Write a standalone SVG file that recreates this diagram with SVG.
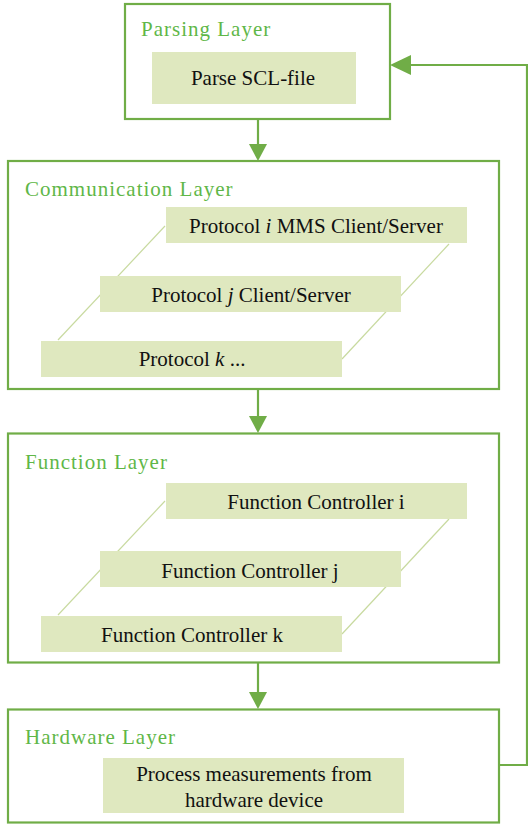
<svg xmlns="http://www.w3.org/2000/svg" width="528" height="825" viewBox="0 0 528 825">
<defs>
<style>
.layer{fill:#fff;stroke:#70AD47;stroke-width:2.2}
.box{fill:#DFE8BF}
.title{font-family:"Liberation Serif",serif;font-size:21px;fill:#5FB748;letter-spacing:1px}
.t{font-family:"Liberation Serif",serif;font-size:21px;fill:#111;text-anchor:middle}
.guide{stroke:#C8DA9F;stroke-width:1.2;fill:none}
.conn{stroke:#70AD47;stroke-width:2.2;fill:none}
</style>
<marker id="ah" viewBox="0 0 10 10" refX="10" refY="5" markerWidth="9" markerHeight="9" markerUnits="userSpaceOnUse" orient="auto">
<path d="M0,0 L10,5 L0,10 Z" fill="#70AD47"/>
</marker>
<marker id="ah2" viewBox="0 0 10 10" refX="10" refY="5" markerWidth="10" markerHeight="10" markerUnits="strokeWidth" orient="auto">
<path d="M0,0 L10,5 L0,10 Z" fill="#70AD47"/>
</marker>
</defs>

<g id="parsing-layer">
<rect class="layer" x="125" y="4" width="265" height="115"/>
<text class="title" x="141" y="36">Parsing Layer</text>
<g id="parse-scl">
<rect class="box" x="152" y="52" width="204" height="52"/>
<text class="t" x="253" y="85">Parse SCL-file</text>
</g>
</g>

<g id="communication-layer">
<rect class="layer" x="8" y="161" width="491" height="228"/>
<text class="title" x="25" y="196">Communication Layer</text>
<line class="guide" x1="165" y1="226" x2="58" y2="340"/>
<line class="guide" x1="449" y1="244" x2="342" y2="359"/>
<g id="protocol-i">
<rect class="box" x="166" y="207" width="301" height="36"/>
<text class="t" x="316" y="232.5">Protocol <tspan font-style="italic">i</tspan> MMS Client/Server</text>
</g>
<g id="protocol-j">
<rect class="box" x="100" y="276" width="301" height="36"/>
<text class="t" x="251" y="301.5">Protocol <tspan font-style="italic">j</tspan> Client/Server</text>
</g>
<g id="protocol-k">
<rect class="box" x="41" y="341" width="301" height="36"/>
<text class="t" x="192" y="365.5">Protocol <tspan font-style="italic">k</tspan> ...</text>
</g>
</g>

<g id="function-layer">
<rect class="layer" x="8" y="433.5" width="491" height="229"/>
<text class="title" x="25" y="469">Function Layer</text>
<line class="guide" x1="165" y1="501" x2="58" y2="615"/>
<line class="guide" x1="449" y1="519" x2="342" y2="634"/>
<g id="function-i">
<rect class="box" x="166" y="483" width="301" height="36"/>
<text class="t" x="316" y="509">Function Controller i</text>
</g>
<g id="function-j">
<rect class="box" x="100" y="551" width="301" height="36"/>
<text class="t" x="250" y="577.5">Function Controller j</text>
</g>
<g id="function-k">
<rect class="box" x="41" y="616" width="301" height="36"/>
<text class="t" x="192" y="642">Function Controller k</text>
</g>
</g>

<g id="hardware-layer">
<rect class="layer" x="8" y="709.5" width="491" height="113"/>
<text class="title" x="25" y="744">Hardware Layer</text>
<g id="process-measurements">
<rect class="box" x="103" y="758" width="301" height="55"/>
<text class="t" x="254" y="781">Process measurements from</text>
<text class="t" x="254" y="807">hardware device</text>
</g>
</g>

<g id="connectors">
<path d="M258,119 V145" class="conn"/>
<path d="M249,144 L267,144 L258,161 Z" fill="#70AD47"/>
<path d="M258,389 V417" class="conn"/>
<path d="M249,416 L267,416 L258,433 Z" fill="#70AD47"/>
<path d="M258,662 V693" class="conn"/>
<path d="M249,692 L267,692 L258,709 Z" fill="#70AD47"/>
<path d="M499,765 H527 V65 H408" class="conn"/>
<path d="M411,55 L411,75 L390,65 Z" fill="#70AD47"/>
</g>
</svg>
